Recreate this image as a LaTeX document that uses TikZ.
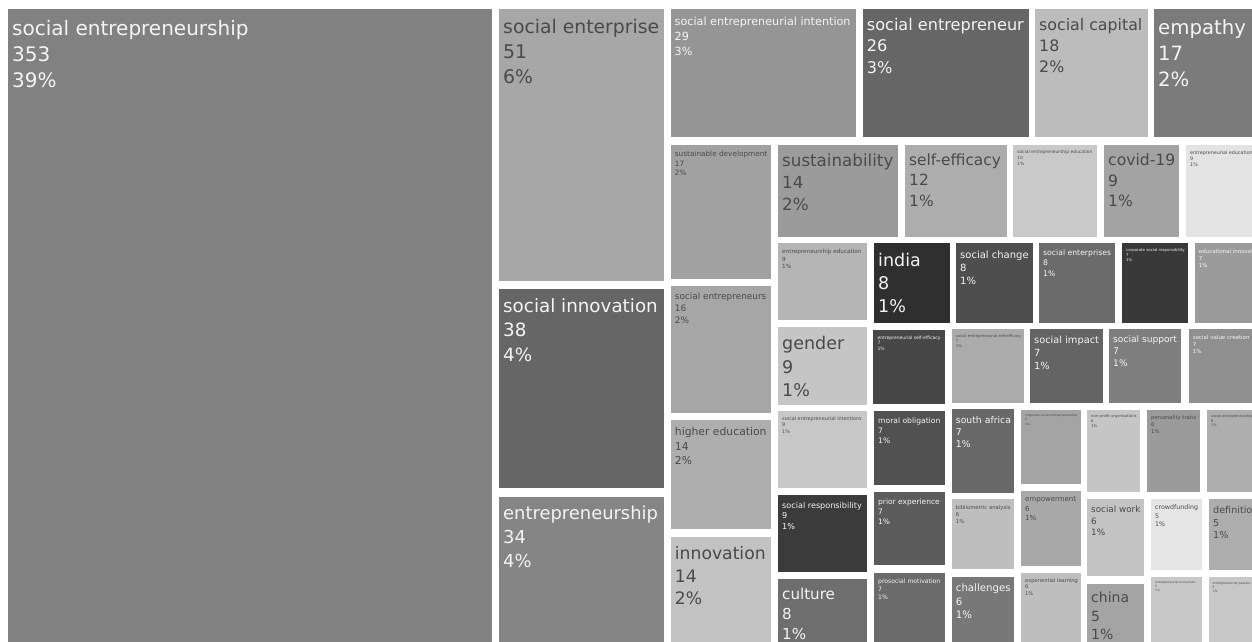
\documentclass[tikz,border=0pt]{standalone}
\usepackage{fontspec}
\setmainfont{DejaVu Sans}
\definecolor{tdark}{HTML}{4A4A4A}
\definecolor{tlight}{HTML}{F4F4F4}
\tikzset{lbl/.style={anchor=north west,inner sep=0pt,align=left}}
% \tb{name}{x1,y1}{x2,y2}{fill hex}{text colour}{font size}{text}
\newcommand\tb[7]{%
  \definecolor{tbfill}{HTML}{#4}%
  \fill[tbfill] (#2) rectangle (#3);
  \node[lbl,text=#5,font=\fontsize{#6}{\fpeval{1.32*#6}}\selectfont,
        xshift=4pt,yshift={-(4+0.31*#6)*1pt}] (#1) at (#2) {#7};
}
\begin{document}
\begin{tikzpicture}[x=1pt,y=-1pt]
\useasboundingbox (0,0) rectangle (1252,642);
\fill[white] (0,0) rectangle (1252,642);
\clip (0,0) rectangle (1252,642);
\tb{se}{8,9.5}{492,650}{818181}{tlight}{20}{social entrepreneurship\\353\\39\%}
\tb{sent}{499,9.5}{664,281}{A7A7A7}{tdark}{18.8}{social enterprise\\51\\6\%}
\tb{sinn}{499,289}{664,488}{666666}{tlight}{18.3}{social innovation\\38\\4\%}
\tb{ent}{499,496.5}{664,650}{858585}{tlight}{17.9}{entrepreneurship\\34\\4\%}
\tb{sei}{670.5,9.3}{856,137}{959595}{tlight}{11.2}{social entrepreneurial intention\\29\\3\%}
\tb{sentr}{862.7,9.3}{1028.7,137}{666666}{tlight}{16.1}{social entrepreneur\\26\\3\%}
\tb{scap}{1035,9.3}{1147.7,137}{BCBCBC}{tdark}{15.8}{social capital\\18\\2\%}
\tb{emp}{1154,9.3}{1260,137}{7B7B7B}{tlight}{19.7}{empathy\\17\\2\%}
\tb{sdev}{670.7,144.7}{770.7,279.3}{A1A1A1}{tdark}{7.3}{sustainable development\\17\\2\%}
\tb{sents}{670.7,286}{770.7,412.7}{A6A6A6}{tdark}{8.9}{social entrepreneurs\\16\\2\%}
\tb{hedu}{670.7,420}{770.7,529.3}{AEAEAE}{tdark}{10.8}{higher education\\14\\2\%}
\tb{inno}{670.7,536.7}{770.7,650}{C2C2C2}{tdark}{17.2}{innovation\\14\\2\%}
\tb{sust}{778,144.7}{898,236.7}{9B9B9B}{tdark}{16.7}{sustainability\\14\\2\%}
\tb{seff}{905,144.7}{1006.7,236.7}{ADADAD}{tdark}{15.4}{self-efficacy\\12\\1\%}
\tb{see}{1013,144.7}{1097,236.7}{C9C9C9}{tdark}{4.4}{social entrepreneurship education\\10\\1\%}
\tb{covid}{1104,144.7}{1179,236.7}{A3A3A3}{tdark}{15.6}{covid-19\\9\\1\%}
\tb{eneduc}{1186,144.7}{1260,236.7}{E3E3E3}{tdark}{4.8}{entrepreneurial education\\9\\1\%}
\tb{epedu}{778,243.3}{867,320}{B5B5B5}{tdark}{5.7}{entrepreneurship education\\9\\1\%}
\tb{india}{874,243.3}{950,323}{2F2F2F}{tlight}{17.5}{india\\8\\1\%}
\tb{schange}{956,243.3}{1032.7,323}{4E4E4E}{tlight}{10}{social change\\8\\1\%}
\tb{sentp}{1039,243.3}{1115,323}{6B6B6B}{tlight}{7.7}{social enterprises\\8\\1\%}
\tb{csr}{1122,243.3}{1188,323}{393939}{tlight}{3.9}{corporate social responsibility\\7\\1\%}
\tb{einno}{1194.7,243.3}{1260,323}{9B9B9B}{tlight}{5.5}{educational innovation\\7\\1\%}
\tb{gender}{778,327}{867,404.7}{C5C5C5}{tdark}{17.5}{gender\\9\\1\%}
\tb{ese}{873.3,330}{945,404}{474747}{tlight}{4.5}{entrepreneurial self-efficacy\\7\\1\%}
\tb{sese}{951.7,329}{1024,402.7}{ABABAB}{tdark}{3.8}{social entrepreneurial self-efficacy\\7\\1\%}
\tb{simp}{1030,329}{1102.7,402.7}{646464}{tlight}{9.8}{social impact\\7\\1\%}
\tb{ssup}{1109,329}{1181,402.7}{7E7E7E}{tlight}{9.1}{social support\\7\\1\%}
\tb{svc}{1188.7,329}{1260,402.7}{8F8F8F}{tlight}{5.5}{social value creation\\7\\1\%}
\tb{seis}{778,411}{867,488}{C7C7C7}{tdark}{4.9}{social entrepreneurial intentions\\9\\1\%}
\tb{moral}{874,411}{944.7,484.7}{515151}{tlight}{7.6}{moral obligation\\7\\1\%}
\tb{safrica}{951.7,409}{1014,492.7}{686868}{tlight}{9.3}{south africa\\7\\1\%}
\tb{cse}{1021,409.5}{1081,484.3}{A4A4A4}{tdark}{3.05}{corporate social entrepreneurship\\6\\1\%}
\tb{npo}{1087,409.5}{1140,492.3}{C5C5C5}{tdark}{3.8}{non-profit organisations\\6\\1\%}
\tb{ptraits}{1147,409.5}{1200,492.3}{9B9B9B}{tdark}{5.3}{personality traits\\6\\1\%}
\tb{ser}{1207,409.5}{1260,492.3}{AEAEAE}{tdark}{3.5}{social entrepreneurship research\\6\\1\%}
\tb{biblio}{951.7,499.3}{1014,569.3}{BEBEBE}{tdark}{5.3}{bibliometric analysis\\6\\1\%}
\tb{empow}{1021,490.5}{1081,565.5}{A8A8A8}{tdark}{7}{empowerment\\6\\1\%}
\tb{swork}{1087,499}{1144.3,576.2}{C3C3C3}{tdark}{8.8}{social work\\6\\1\%}
\tb{crowd}{1151,499}{1202.3,569.5}{E5E5E5}{tdark}{6.3}{crowdfunding\\5\\1\%}
\tb{defn}{1209,499}{1260,569.5}{ADADAD}{tdark}{9.6}{definition\\5\\1\%}
\tb{sresp}{778,495.3}{867,572}{3B3B3B}{tlight}{8.1}{social responsibility\\9\\1\%}
\tb{prior}{874,492}{944.7,565.3}{5C5C5C}{tlight}{7.5}{prior experience\\7\\1\%}
\tb{culture}{778,579.3}{867,650}{6E6E6E}{tlight}{15.1}{culture\\8\\1\%}
\tb{prosoc}{874,572.7}{944.7,650}{6B6B6B}{tlight}{6.1}{prosocial motivation\\7\\1\%}
\tb{chall}{951.7,576.7}{1014.3,650}{787878}{tlight}{10.2}{challenges\\6\\1\%}
\tb{expl}{1021,572.5}{1081,650}{BEBEBE}{tdark}{5.1}{experiential learning\\6\\1\%}
\tb{china}{1087,583.5}{1144,650}{A4A4A4}{tdark}{14}{china\\5\\1\%}
\tb{ecosys}{1151,576.5}{1202,650}{C8C8C8}{tdark}{3}{entrepreneurial ecosystem\\5\\1\%}
\tb{passion}{1208.5,576.5}{1260,650}{C7C7C7}{tdark}{3.2}{entrepreneurial passion\\5\\1\%}
\end{tikzpicture}
\end{document}
